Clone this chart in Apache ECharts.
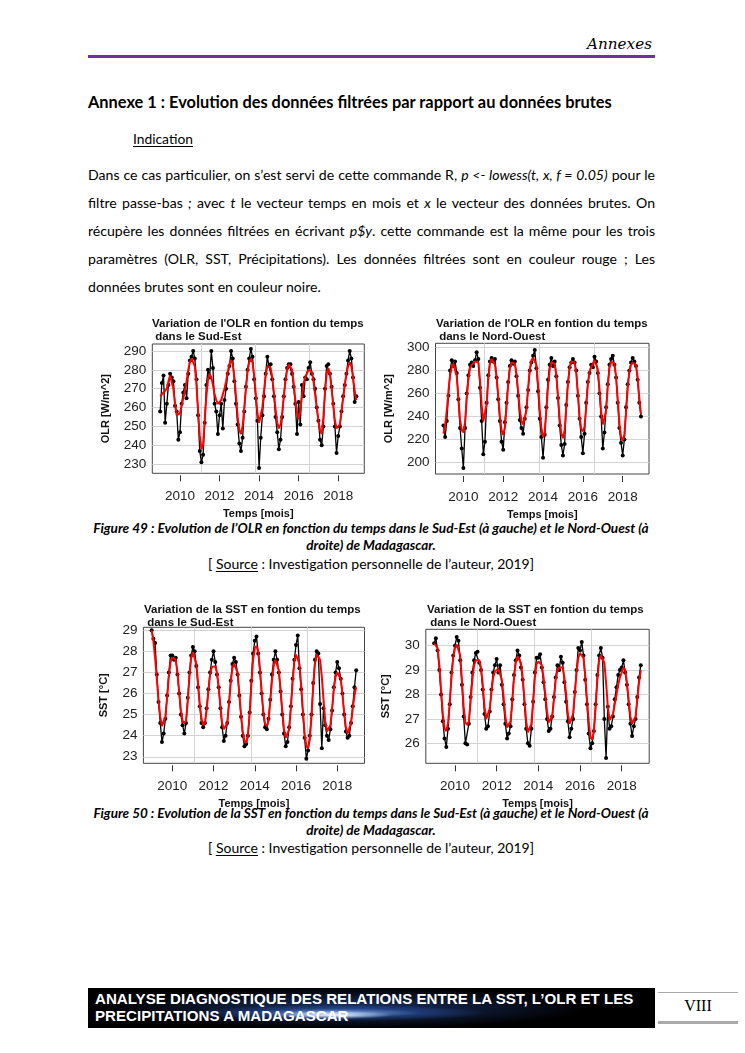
<!DOCTYPE html>
<html><head><meta charset="utf-8">
<script src="https://cdn.jsdelivr.net/npm/echarts@6/dist/echarts.min.js"></script>
<style>
html,body{margin:0;padding:0;background:#fff;}
#page{position:relative;width:745px;height:1053px;overflow:hidden;font-family:Lato,"Open Sans",sans-serif;color:#000;}
.t{position:absolute;white-space:nowrap;display:inline-block;}
#chart{position:absolute;left:0;top:0;width:745px;height:1053px;}
u{text-underline-offset:2px;}
</style></head>
<body><div id="page">
<div class="t" id="annexes" data-w="65" style="top:34px;right:93px;line-height:20px;font-family:'DejaVu Serif',serif;font-style:italic;font-size:14px;">Annexes</div>
<div style="position:absolute;left:88px;top:55px;width:567px;height:3px;background:#7030a0;"></div>
<div class="t fit" data-w="524" style="left:88px;top:92px;line-height:20px;font-weight:bold;font-size:16px;">Annexe 1 : Evolution des données filtrées par rapport au données brutes</div>
<div class="t fit" data-w="60" style="left:133px;top:129px;line-height:20px;font-size:13px;"><u>Indication</u></div>
<div class="t pl" style="left:88px;top:165px;line-height:20px;">Dans ce cas particulier, on s’est servi de cette commande R, <i>p &lt;- lowess(t, x, f = 0.05)</i> pour le</div>
<div class="t pl" style="left:88px;top:193px;line-height:20px;">filtre passe-bas <i>;</i> avec <i>t</i> le vecteur temps en mois et <i>x</i> le vecteur des données brutes. On</div>
<div class="t pl" style="left:88px;top:221px;line-height:20px;">récupère les données filtrées en écrivant <i>p$y</i>. cette commande est la même pour les trois</div>
<div class="t pl" style="left:88px;top:249px;line-height:20px;">paramètres (OLR, SST, Précipitations). Les données filtrées sont en couleur rouge ; Les</div>
<div class="t" id="plast" style="left:88px;top:277px;line-height:20px;">données brutes sont en couleur noire.</div>

<div class="t cap" data-w="556" data-c="371" style="top:519px;line-height:18px;font-weight:bold;font-style:italic;font-size:13px;">Figure 49 : Evolution de l’OLR en fonction du temps dans le Sud-Est (à gauche) et le Nord-Ouest (à</div>
<div class="t cap2" data-c="371" style="top:536px;line-height:18px;font-weight:bold;font-style:italic;font-size:13px;">droite) de Madagascar.</div>
<div class="t src" data-w="326" data-c="371" style="top:554px;line-height:20px;font-size:14px;">[ <u>Source</u> : Investigation personnelle de l’auteur, 2019]</div>

<div class="t cap" data-w="556" data-c="371" style="top:804px;line-height:18px;font-weight:bold;font-style:italic;font-size:13px;">Figure 50 : Evolution de la SST en fonction du temps dans le Sud-Est (à gauche) et le Nord-Ouest (à</div>
<div class="t cap2" data-c="371" style="top:821px;line-height:18px;font-weight:bold;font-style:italic;font-size:13px;">droite) de Madagascar.</div>
<div class="t src" data-w="326" data-c="371" style="top:838px;line-height:20px;font-size:14px;">[ <u>Source</u> : Investigation personnelle de l’auteur, 2019]</div>

<div style="position:absolute;left:88px;top:988px;width:567px;height:40px;background:
radial-gradient(ellipse 60px 4px at 245px 27px, rgba(255,255,255,0.95), rgba(210,230,255,0.55) 50%, rgba(0,0,0,0) 100%),
radial-gradient(ellipse 150px 8px at 250px 25px, rgba(160,200,255,0.8), rgba(50,100,200,0.4) 55%, rgba(0,0,0,0) 100%),
radial-gradient(ellipse 240px 20px at 260px 20px, rgba(45,85,175,0.6), rgba(0,0,0,0) 100%),
#000;"></div>
<div class="t fit" data-w="539" style="left:95px;top:991px;line-height:16px;color:#fff;font-family:'Liberation Sans',Arial,sans-serif;font-weight:bold;font-size:13px;">ANALYSE DIAGNOSTIQUE DES RELATIONS ENTRE LA SST, L’OLR ET LES</div>
<div class="t" id="foot2" style="left:95px;top:1008px;line-height:16px;color:#fff;font-family:'Liberation Sans',Arial,sans-serif;font-weight:bold;font-size:13px;">PRECIPITATIONS A MADAGASCAR</div>
<div style="position:absolute;left:658px;top:992px;width:80px;height:28px;border-top:1px solid #aaa;border-bottom:3px solid #aaa;"></div>
<div class="t" style="left:658px;width:80px;text-align:center;top:996px;line-height:20px;font-family:'Liberation Serif',serif;font-size:16px;">VIII</div>

<div id="chart"></div>
</div>
<script>
// ---------- DATA (monthly, Jan 2009 - Dec 2018) ----------
const startYear = 2009;
const yearTicks = [2010, 2012, 2014, 2016, 2018];
const vGridYears = [2011.07, 2013.81, 2016.55];
const olrSETicks = [230, 240, 250, 260, 270, 280, 290];
const olrNWTicks = [200, 220, 240, 260, 280, 300];
const sstSETicks = [23, 24, 25, 26, 27, 28, 29];
const sstNWTicks = [26, 27, 28, 29, 30];

const olrSE_raw = [
258,273,277,252,262,272,278,276,274,261,258,243,
247,262,268,272,265,278,285,287,290,286,275,256,
237,231,235,252,272,280,276,290,281,262,258,246,
256,262,249,264,270,278,282,290,286,274,262,251,
241,237,244,258,271,280,286,291,287,275,265,253,
228,244,256,266,278,287,282,283,275,266,255,247,
238,243,255,266,275,281,283,283,278,271,262,246,
263,251,272,266,276,275,281,284,278,275,270,260,
253,243,240,250,270,282,283,278,271,262,250,236,
245,250,258,266,272,278,285,290,286,276,263,266];
const olrSE_filt = [
266,267,268,268,270,274,277,276,270,262,256,255,
257,261,265,269,274,280,284,286,286,282,272,258,
245,238,240,253,266,275,278,276,272,267,264,262,
262,264,267,270,274,279,283,285,283,276,266,255,
248,246,250,260,270,279,284,286,284,277,267,257,
252,253,260,269,277,282,283,281,276,268,259,252,
249,251,257,266,274,280,283,283,280,273,264,257,
254,258,266,273,276,278,280,281,279,274,267,260,
253,248,246,255,268,278,281,278,270,261,253,249,
248,251,258,265,272,278,282,284,282,276,269,264];

const olrNW_raw = [
232,222,236,258,280,289,284,288,278,255,230,212,
195,230,260,276,285,287,284,289,296,290,265,236,
207,218,252,276,288,291,288,290,274,255,236,218,
211,235,252,270,284,289,286,288,275,258,237,230,
225,238,248,263,280,287,293,298,282,262,238,222,
204,224,248,272,285,291,284,288,275,256,232,215,
206,216,250,270,283,287,290,287,280,258,238,222,
208,225,252,270,278,285,283,292,288,278,260,240,
212,226,248,268,285,290,293,285,274,252,230,217,
206,220,248,268,280,287,291,288,284,272,252,240];
const olrNW_filt = [
225,232,245,262,276,283,286,285,275,256,237,228,
226,235,255,272,282,285,286,288,289,287,272,250,
236,235,250,272,286,290,289,285,275,258,240,228,
224,230,248,268,282,287,288,286,277,262,246,236,
233,233,245,265,281,289,291,291,285,268,246,230,
222,226,245,266,281,287,288,286,276,258,238,225,
221,228,248,268,282,288,289,287,278,260,240,229,
227,231,248,268,279,283,286,289,289,281,264,244,
233,232,245,266,282,288,289,286,275,255,234,222,
219,224,243,264,279,285,287,288,285,274,256,242];

const sstSE_raw = [
29.0,28.6,28.4,26.9,25.6,24.6,23.7,24.1,24.8,25.9,27.0,27.8,
27.8,27.6,27.7,26.9,26.0,25.0,24.5,24.1,24.6,25.8,27.0,27.8,
28.2,28.0,27.3,26.3,25.4,24.6,24.4,24.6,25.3,26.2,27.0,27.6,
28.0,27.5,26.9,26.3,25.3,24.4,23.75,24.0,24.6,25.6,26.6,27.4,
27.7,27.5,26.9,25.9,24.9,24.0,23.5,23.6,24.0,25.1,26.6,27.9,
28.5,28.7,27.9,27.0,26.0,25.0,24.4,24.3,24.8,25.7,26.9,27.6,
28.0,27.6,27.0,26.1,25.0,24.1,23.5,23.7,24.4,25.4,26.7,27.6,
28.3,28.75,27.2,26.2,25.0,23.9,22.9,23.3,24.0,25.0,26.5,27.6,
28.0,27.9,25.5,23.4,25.3,24.5,24.0,23.8,24.3,25.2,26.3,27.0,
27.5,27.2,26.7,26.0,25.0,24.2,23.9,24.0,24.6,25.4,26.3,27.1];
const sstSE_filt = [
29.0,28.5,27.7,26.7,25.7,24.9,24.45,24.4,24.9,25.8,26.8,27.5,
27.7,27.7,27.6,27.0,26.1,25.2,24.7,24.6,24.7,25.6,26.8,27.7,
27.95,27.9,27.4,26.5,25.5,24.8,24.5,24.6,25.2,26.1,26.9,27.25,
27.3,27.3,27.0,26.3,25.4,24.6,24.3,24.25,24.6,25.5,26.5,27.2,
27.4,27.4,27.0,26.0,25.0,24.2,23.75,23.65,24.0,25.0,26.4,27.6,
28.15,28.25,28.0,27.2,26.1,25.1,24.55,24.45,24.7,25.6,26.6,27.3,
27.6,27.55,27.1,26.2,25.2,24.3,23.9,23.85,24.3,25.3,26.5,27.5,
27.85,27.85,27.4,26.4,25.2,24.1,23.5,23.4,23.8,24.9,26.3,27.4,
27.85,27.9,27.6,26.8,25.7,24.7,24.2,24.15,24.5,25.3,26.2,26.8,
27.0,27.0,26.7,26.0,25.1,24.4,24.1,24.15,24.6,25.3,25.9,26.3];

const sstNW_raw = [
30.1,30.3,29.8,29.0,28.0,26.9,26.2,25.85,26.6,27.6,28.9,29.6,
30.0,30.35,30.2,29.4,28.4,27.1,26.0,25.95,26.8,27.9,28.9,29.4,
29.7,29.75,29.3,29.0,28.2,27.2,26.6,26.7,27.3,28.2,28.9,29.2,
29.45,28.9,29.2,28.4,27.6,26.8,26.2,26.4,26.7,27.8,28.8,29.4,
29.8,29.6,29.1,28.6,27.6,26.6,26.0,25.9,26.6,27.7,28.9,29.5,
29.5,29.65,29.1,28.5,27.8,27.0,26.5,26.6,27.1,27.9,28.7,29.2,
29.0,29.55,29.3,28.5,27.7,26.9,26.25,26.6,27.0,28.1,29.0,29.9,
29.8,30.15,29.6,28.6,27.6,26.4,25.8,26.0,26.5,27.6,28.8,29.6,
29.9,29.5,27.0,25.4,27.5,26.6,26.7,27.1,27.8,28.3,28.8,29.0,
29.1,29.4,28.9,28.4,27.6,26.8,26.3,26.7,27.0,27.9,28.7,29.2];
const sstNW_filt = [
30.1,30.15,29.9,29.2,28.2,27.2,26.6,26.5,26.8,27.7,28.7,29.5,
29.9,30.05,30.1,29.6,28.6,27.5,26.85,26.75,26.9,27.7,28.6,29.2,
29.4,29.45,29.4,29.1,28.4,27.5,27.0,27.0,27.4,28.1,28.7,28.95,
29.0,29.05,29.0,28.6,27.9,27.1,26.65,26.6,26.9,27.7,28.7,29.3,
29.55,29.55,29.3,28.7,27.8,26.9,26.45,26.4,26.8,27.7,28.7,29.25,
29.35,29.4,29.2,28.7,28.0,27.3,26.85,26.8,27.1,27.8,28.6,29.0,
29.1,29.15,29.1,28.7,28.0,27.2,26.8,26.8,27.2,28.0,28.9,29.5,
29.7,29.75,29.5,28.8,27.8,26.9,26.25,26.15,26.5,27.5,28.6,29.4,
29.6,29.65,29.3,28.5,27.5,26.95,26.9,27.2,27.6,28.0,28.4,28.7,
28.9,29.1,29.0,28.5,27.8,27.1,26.8,26.75,27.1,27.8,28.5,29.0];

// ---------- TEXT FITTING ----------
function fitW(el, w){
  const fs = parseFloat(getComputedStyle(el).fontSize);
  const cw = el.getBoundingClientRect().width;
  el.style.fontSize = (fs * w / cw) + 'px';
}
document.querySelectorAll('.fit').forEach(el => fitW(el, +el.dataset.w));
fitW(document.getElementById('annexes'), 65);
const plast = document.getElementById('plast');
plast.style.fontSize = '14px';
fitW(plast, 233);
const pfs = plast.style.fontSize;
document.querySelectorAll('.pl').forEach(el => {
  el.style.fontSize = pfs;
  const w = el.getBoundingClientRect().width;
  const n = (el.textContent.match(/ /g) || []).length;
  el.style.wordSpacing = ((567 - w) / n) + 'px';
});
let capFs = null;
document.querySelectorAll('.cap').forEach(el => { fitW(el, 556); capFs = el.style.fontSize; });
document.querySelectorAll('.cap2').forEach(el => { el.style.fontSize = capFs; });
document.querySelectorAll('.src').forEach(el => fitW(el, 326));
document.querySelectorAll('.cap,.cap2,.src').forEach(el => {
  const w = el.getBoundingClientRect().width;
  el.style.left = (+el.dataset.c - w / 2) + 'px';
});
const f1 = document.querySelector('.fit[data-w="539"]');
document.getElementById('foot2').style.fontSize = f1.style.fontSize;

// ---------- CHARTS ----------
const time = olrSE_raw.map((_, i) => startYear + i / 12);
const pair = arr => arr.map((v, i) => [time[i], v]);
const XMIN = 2008.6, XMAX = 2019.32;
const FONT = "'Liberation Sans', Arial, sans-serif";

const panels = [
  {title: "Variation de l'OLR en fontion du temps\n dans le Sud-Est", tl: 152, tt: 317,
   g: {left: 152.3, top: 344, width: 212, height: 129.3}, ymin: 225.2, ymax: 293.7,
   yt: olrSETicks, yname: 'OLR [W/m^2]', ygap: 41, raw: olrSE_raw, filt: olrSE_filt},
  {title: "Variation de l'OLR en fontion du temps\n dans le Nord-Ouest", tl: 436, tt: 317,
   g: {left: 435.5, top: 343.3, width: 213.5, height: 130.7}, ymin: 189.8, ymax: 303.8,
   yt: olrNWTicks, yname: 'OLR [W/m^2]', ygap: 41, raw: olrNW_raw, filt: olrNW_filt},
  {title: "Variation de la SST en fontion du temps\n dans le Sud-Est", tl: 144, tt: 603,
   g: {left: 143.4, top: 627.3, width: 221.1, height: 136}, ymin: 22.69, ymax: 29.14,
   yt: sstSETicks, yname: 'SST [°C]', ygap: 34, raw: sstSE_raw, filt: sstSE_filt},
  {title: "Variation de la SST en fontion du temps\n dans le Nord-Ouest", tl: 427, tt: 603,
   g: {left: 425.8, top: 629.3, width: 223.4, height: 134}, ymin: 25.18, ymax: 30.67,
   yt: sstNWTicks, yname: 'SST [°C]', ygap: 34, raw: sstNW_raw, filt: sstNW_filt}
];

const option = {animation: false, title: [], grid: [], xAxis: [], yAxis: [], series: []};
panels.forEach((p, k) => {
  option.title.push({text: p.title, left: p.tl, top: p.tt, padding: 0,
    textStyle: {fontFamily: FONT, fontSize: 11.5, fontWeight: 'bold', color: '#111', lineHeight: 13}});
  option.grid.push(Object.assign({show: true, borderColor: '#444', borderWidth: 1, backgroundColor: 'transparent'}, p.g));
  option.xAxis.push({type: 'value', gridIndex: k, min: XMIN, max: XMAX, offset: 2,
    axisLine: {show: false},
    axisTick: {show: true, length: 6, lineStyle: {color: '#333'}, customValues: yearTicks},
    axisLabel: {customValues: yearTicks, margin: 14, fontSize: 13.5, color: '#222', fontFamily: FONT,
      formatter: v => String(Math.round(v))},
    splitLine: {show: false},
    name: 'Temps [mois]', nameLocation: 'middle', nameGap: 33,
    nameTextStyle: {fontFamily: FONT, fontSize: 11, fontWeight: 'bold', color: '#111'}});
  option.xAxis.push({type: 'value', gridIndex: k, min: XMIN, max: XMAX,
    axisLine: {show: false}, axisTick: {show: false, customValues: vGridYears},
    axisLabel: {show: false}, splitLine: {show: true, lineStyle: {color: '#d3d3d3', width: 1}}});
  option.yAxis.push({type: 'value', gridIndex: k, min: p.ymin, max: p.ymax,
    axisLine: {show: false}, axisTick: {show: false, customValues: p.yt},
    axisLabel: {customValues: p.yt, margin: 6, fontSize: 13.5, color: '#222', fontFamily: FONT,
      formatter: v => String(v)},
    splitLine: {show: true, lineStyle: {color: '#d3d3d3', width: 1}},
    name: p.yname, nameLocation: 'middle', nameGap: p.ygap,
    nameTextStyle: {fontFamily: FONT, fontSize: 11, fontWeight: 'bold', color: '#111'}});
  option.series.push({type: 'line', xAxisIndex: 2 * k, yAxisIndex: k, data: pair(p.raw),
    symbol: 'circle', symbolSize: 4, showAllSymbol: true, silent: true,
    itemStyle: {color: '#000'}, lineStyle: {color: '#000', width: 1.3}, z: 2});
  option.series.push({type: 'line', xAxisIndex: 2 * k, yAxisIndex: k, data: pair(p.filt),
    symbol: 'none', silent: true, lineStyle: {color: '#ff0000', width: 2}, z: 3});
});
const chart = echarts.init(document.getElementById('chart'), null, {renderer: 'canvas'});
chart.setOption(option);
</script>
</body></html>
